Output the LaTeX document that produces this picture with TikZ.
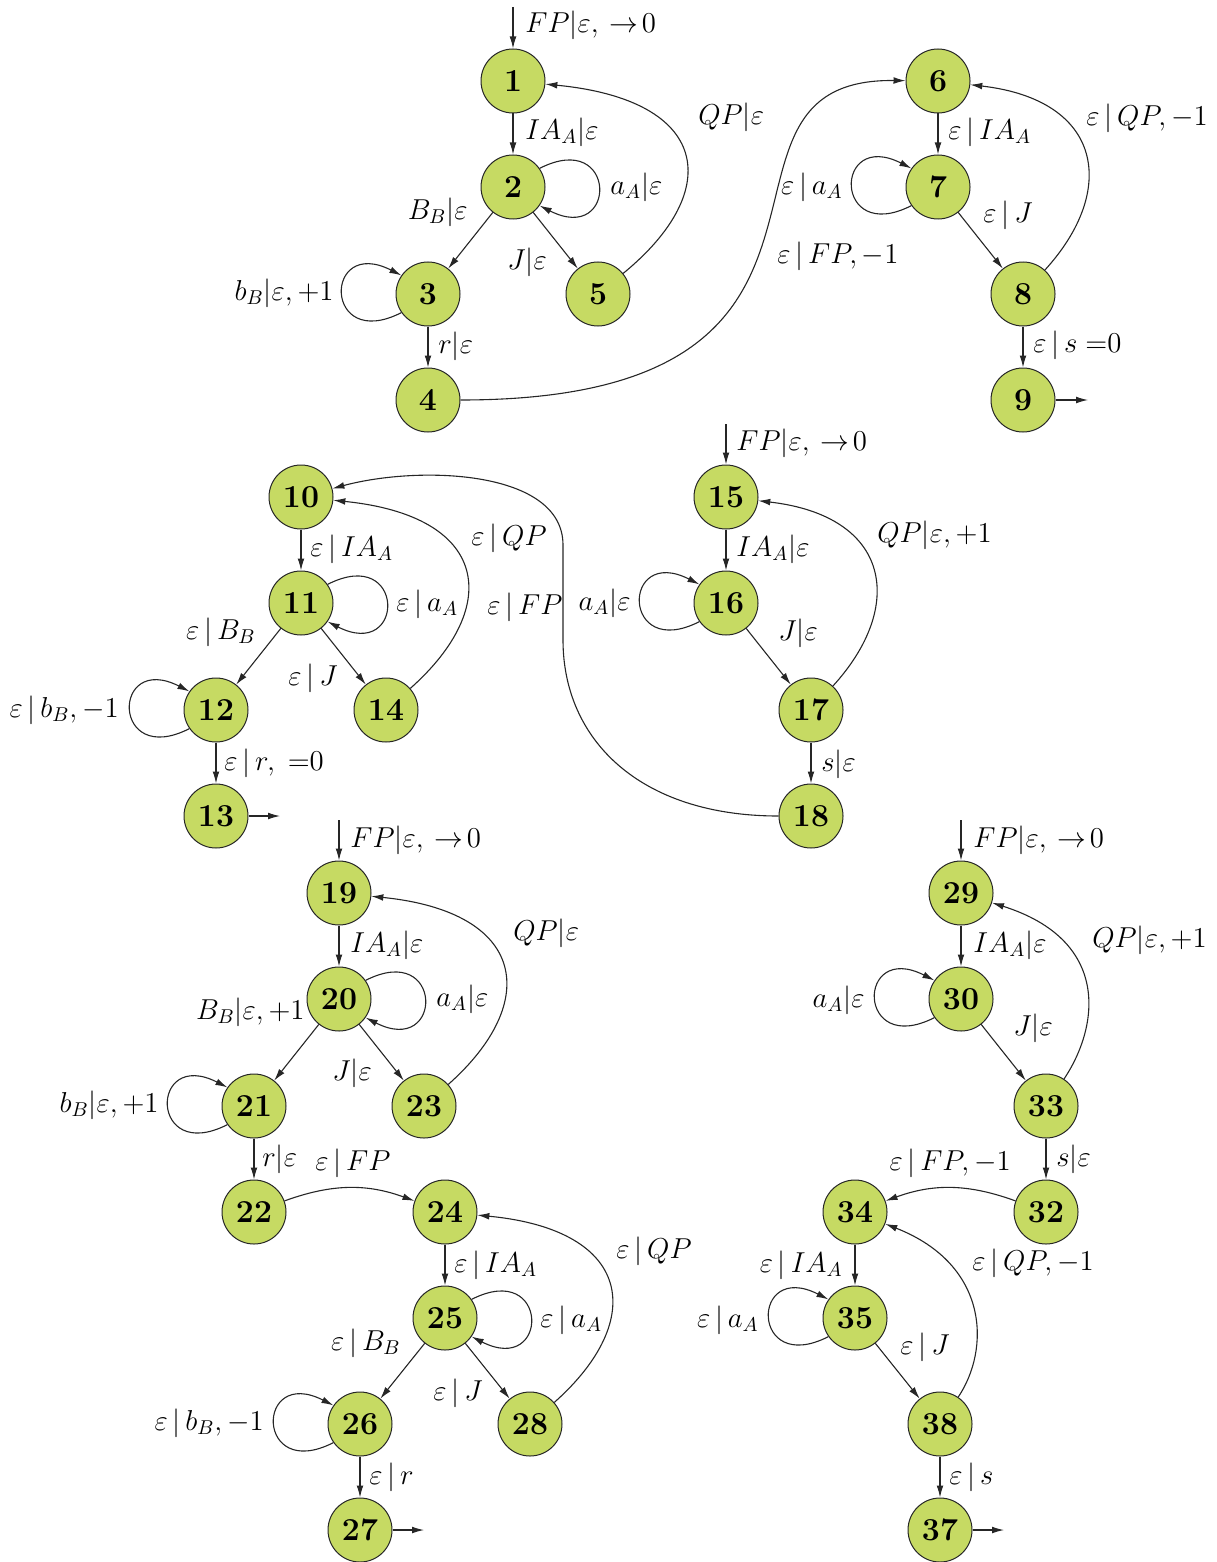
\documentclass[tikz,border=0pt]{standalone}
\usetikzlibrary{arrows.meta}
\definecolor{nodegreen}{RGB}{198,218,99}
\newcommand{\toz}{\:{\rightarrow}\mkern2mu 0}
\begin{document}
\begin{tikzpicture}[x=0.5pt,y=0.5pt,
  st/.style={circle,draw=black!85,fill=nodegreen,minimum size=32pt,inner sep=0pt,line width=0.5pt,font=\fontsize{16}{19}\selectfont\bfseries},
  lab/.style={inner sep=0pt,font=\fontsize{14.7}{17}\selectfont},
  tr/.style={-{Latex[length=6pt,width=3.4pt]},line width=0.55pt,black!85}]
\useasboundingbox (0,0) rectangle (1216,-1562);
% ---------- nodes
\node[st] (n1) at (513,-81) {1};
\node[st] (n2) at (513,-187) {2};
\node[st] (n3) at (428,-294) {3};
\node[st] (n4) at (428,-400) {4};
\node[st] (n5) at (598,-294) {5};
\node[st] (n6) at (938,-81) {6};
\node[st] (n7) at (938,-187) {7};
\node[st] (n8) at (1023,-294) {8};
\node[st] (n9) at (1023,-400) {9};
\node[st] (n10) at (301,-497) {10};
\node[st] (n11) at (301,-603) {11};
\node[st] (n12) at (216,-710) {12};
\node[st] (n13) at (216,-816) {13};
\node[st] (n14) at (386,-710) {14};
\node[st] (n15) at (726,-497) {15};
\node[st] (n16) at (726,-603) {16};
\node[st] (n17) at (811,-710) {17};
\node[st] (n18) at (811,-816) {18};
\node[st] (n19) at (339,-893) {19};
\node[st] (n20) at (339,-999) {20};
\node[st] (n21) at (254,-1106) {21};
\node[st] (n22) at (254,-1212) {22};
\node[st] (n23) at (424,-1106) {23};
\node[st] (n24) at (445,-1212) {24};
\node[st] (n25) at (445,-1318) {25};
\node[st] (n26) at (360,-1424) {26};
\node[st] (n27) at (360,-1530) {27};
\node[st] (n28) at (530,-1424) {28};
\node[st] (n29) at (961,-893) {29};
\node[st] (n30) at (961,-999) {30};
\node[st] (n33) at (1046,-1106) {33};
\node[st] (n32) at (1046,-1212) {32};
\node[st] (n34) at (855,-1212) {34};
\node[st] (n35) at (855,-1318) {35};
\node[st] (n38) at (940,-1424) {38};
\node[st] (n37) at (940,-1530) {37};
% ---------- free ends
\coordinate (s1) at (513,-7);
\coordinate (s15) at (726,-424);
\coordinate (s19) at (339,-820);
\coordinate (s29) at (961,-820);
\coordinate (f9) at (1088,-400);
\coordinate (f13) at (280,-816);
\coordinate (f27) at (424,-1530);
\coordinate (f37) at (1004,-1530);
% ---------- group 1
\draw[tr] (s1) -- (n1);
\draw[tr] (n1) -- (n2);
\draw[tr] (n2.35) .. controls +(27:88) and +(-27:88) .. (n2.-35);
\draw[tr] (n2) -- (n3);
\draw[tr] (n2) -- (n5);
\draw[tr] (n3.-145) .. controls +(-153:88) and +(153:88) .. (n3.145);
\draw[tr] (n3) -- (n4);
\draw[tr] (n5) .. controls (725,-190) and (710,-100) .. (n1);
\draw[tr] (n4) .. controls (910,-400) and (676,-78) .. (n6);
% ---------- group 2
\draw[tr] (n6) -- (n7);
\draw[tr] (n7.-145) .. controls +(-153:88) and +(153:88) .. (n7.145);
\draw[tr] (n7) -- (n8);
\draw[tr] (n8) .. controls (1118,-190) and (1103,-100) .. (n6);
\draw[tr] (n8) -- (n9);
\draw[tr] (n9) -- (f9);
% ---------- group 3
\draw[tr] (n10) -- (n11);
\draw[tr] (n11.35) .. controls +(27:88) and +(-27:88) .. (n11.-35);
\draw[tr] (n11) -- (n12);
\draw[tr] (n11) -- (n14);
\draw[tr] (n12.-145) .. controls +(-153:88) and +(153:88) .. (n12.145);
\draw[tr] (n12) -- (n13);
\draw[tr] (n13) -- (f13);
\draw[tr] (n14) .. controls (503,-606) and (489,-516) .. (n10);
\draw[tr] (n18) .. controls (640,-816) and (563,-740) .. (563,-640) -- (563,-545) .. controls (563,-470) and (420,-465) .. (n10);
% ---------- group 4
\draw[tr] (s15) -- (n15);
\draw[tr] (n15) -- (n16);
\draw[tr] (n16.-145) .. controls +(-153:88) and +(153:88) .. (n16.145);
\draw[tr] (n16) -- (n17);
\draw[tr] (n17) .. controls (906,-606) and (891,-516) .. (n15);
\draw[tr] (n17) -- (n18);
% ---------- group 5
\draw[tr] (s19) -- (n19);
\draw[tr] (n19) -- (n20);
\draw[tr] (n20.35) .. controls +(27:88) and +(-27:88) .. (n20.-35);
\draw[tr] (n20) -- (n21);
\draw[tr] (n20) -- (n23);
\draw[tr] (n21.-145) .. controls +(-153:88) and +(153:88) .. (n21.145);
\draw[tr] (n21) -- (n22);
\draw[tr] (n23) .. controls (541,-1002) and (527,-912) .. (n19);
\draw[tr] (n22) to[bend left=20] (n24);
\draw[tr] (n24) -- (n25);
\draw[tr] (n25.35) .. controls +(27:88) and +(-27:88) .. (n25.-35);
\draw[tr] (n25) -- (n26);
\draw[tr] (n25) -- (n28);
\draw[tr] (n26.-145) .. controls +(-153:88) and +(153:88) .. (n26.145);
\draw[tr] (n26) -- (n27);
\draw[tr] (n27) -- (f27);
\draw[tr] (n28) .. controls (647,-1320) and (633,-1230) .. (n24);
% ---------- group 6
\draw[tr] (s29) -- (n29);
\draw[tr] (n29) -- (n30);
\draw[tr] (n30.-145) .. controls +(-153:88) and +(153:88) .. (n30.145);
\draw[tr] (n30) -- (n33);
\draw[tr] (n33) .. controls (1100,-1025) and (1110,-940) .. (n29);
\draw[tr] (n33) -- (n32);
\draw[tr] (n32) to[bend right=20] (n34);
\draw[tr] (n34) -- (n35);
\draw[tr] (n35.-145) .. controls +(-153:88) and +(153:88) .. (n35.145);
\draw[tr] (n35) -- (n38);
\draw[tr] (n38) .. controls (990,-1350) and (990,-1265) .. (n34);
\draw[tr] (n38) -- (n37);
\draw[tr] (n37) -- (f37);
% ---------- labels
\node[lab,anchor=west] (l1) at (525,-25) {$FP|\varepsilon,\toz$};
\node[lab,anchor=west] (l2) at (525,-132) {$IA_A|\varepsilon$};
\node[lab,anchor=west] (l3) at (610,-187) {$a_A|\varepsilon$};
\node[lab,anchor=east] (l4) at (468,-212) {$B_B|\varepsilon$};
\node[lab] (l5) at (527,-262) {$J|\varepsilon$};
\node[lab,anchor=east] (l6) at (334,-293) {$b_B|\varepsilon,+1$};
\node[lab,anchor=west] (l7) at (438,-346) {$r|\varepsilon$};
\node[lab,anchor=west] (l8) at (698,-117) {$QP|\varepsilon$};
\node[lab,anchor=west] (l9) at (777,-256) {$\varepsilon\,|\,FP,-1$};
\node[lab,anchor=west] (l10) at (948,-132) {$\varepsilon\,|\,IA_A$};
\node[lab,anchor=east] (l11) at (843,-187) {$\varepsilon\,|\,a_A$};
\node[lab] (l12) at (1008,-215) {$\varepsilon\,|\,J$};
\node[lab,anchor=west] (l13) at (1086,-118) {$\varepsilon\,|\,QP,-1$};
\node[lab,anchor=west] (l14) at (1033,-345) {$\varepsilon\,|\,s\;{=}0$};
\node[lab,anchor=west] (l15) at (310,-549) {$\varepsilon\,|\,IA_A$};
\node[lab,anchor=west] (l16) at (396,-604) {$\varepsilon\,|\,a_A$};
\node[lab,anchor=east] (l17) at (256,-632) {$\varepsilon\,|\,B_B$};
\node[lab] (l18) at (313,-678) {$\varepsilon\,|\,J$};
\node[lab,anchor=east] (l19) at (119,-710) {$\varepsilon\,|\,b_B,-1$};
\node[lab,anchor=west] (l20) at (224,-763) {$\varepsilon\,|\,r,\;{=}0$};
\node[lab,anchor=west] (l21) at (471,-538) {$\varepsilon\,|\,QP$};
\node[lab,anchor=west] (l22) at (487,-607) {$\varepsilon\,|\,FP$};
\node[lab,anchor=west] (l23) at (736,-443) {$FP|\varepsilon,\toz$};
\node[lab,anchor=west] (l24) at (736,-549) {$IA_A|\varepsilon$};
\node[lab,anchor=east] (l25) at (631,-603) {$a_A|\varepsilon$};
\node[lab] (l26) at (798,-633) {$J|\varepsilon$};
\node[lab,anchor=west] (l27) at (877,-535) {$QP|\varepsilon,+1$};
\node[lab,anchor=west] (l28) at (821,-764) {$s|\varepsilon$};
\node[lab,anchor=west] (l29) at (350,-840) {$FP|\varepsilon,\toz$};
\node[lab,anchor=west] (l30) at (350,-945) {$IA_A|\varepsilon$};
\node[lab,anchor=west] (l31) at (436,-999) {$a_A|\varepsilon$};
\node[lab,anchor=east] (l32) at (305,-1012) {$B_B|\varepsilon,+1$};
\node[lab] (l33) at (352,-1073) {$J|\varepsilon$};
\node[lab,anchor=east] (l34) at (159,-1105) {$b_B|\varepsilon,+1$};
\node[lab,anchor=west] (l35) at (262,-1159) {$r|\varepsilon$};
\node[lab,anchor=west] (l36) at (513,-933) {$QP|\varepsilon$};
\node[lab,anchor=west] (l37) at (315,-1163) {$\varepsilon\,|\,FP$};
\node[lab,anchor=west] (l38) at (454,-1265) {$\varepsilon\,|\,IA_A$};
\node[lab,anchor=west] (l39) at (540,-1320) {$\varepsilon\,|\,a_A$};
\node[lab,anchor=east] (l40) at (401,-1343) {$\varepsilon\,|\,B_B$};
\node[lab] (l41) at (458,-1393) {$\varepsilon\,|\,J$};
\node[lab,anchor=east] (l42) at (264,-1423) {$\varepsilon\,|\,b_B,-1$};
\node[lab,anchor=west] (l43) at (369,-1477) {$\varepsilon\,|\,r$};
\node[lab,anchor=west] (l44) at (616,-1251) {$\varepsilon\,|\,QP$};
\node[lab,anchor=west] (l45) at (973,-840) {$FP|\varepsilon,\toz$};
\node[lab,anchor=west] (l46) at (973,-945) {$IA_A|\varepsilon$};
\node[lab,anchor=east] (l47) at (865,-1000) {$a_A|\varepsilon$};
\node[lab] (l48) at (1033,-1028) {$J|\varepsilon$};
\node[lab,anchor=west] (l49) at (1092,-940) {$QP|\varepsilon,+1$};
\node[lab,anchor=west] (l50) at (1056,-1159) {$s|\varepsilon$};
\node[lab,anchor=east] (l51) at (1011,-1163) {$\varepsilon\,|\,FP,-1$};
\node[lab,anchor=east] (l52) at (843,-1265) {$\varepsilon\,|\,IA_A$};
\node[lab,anchor=east] (l53) at (759,-1320) {$\varepsilon\,|\,a_A$};
\node[lab] (l54) at (925,-1347) {$\varepsilon\,|\,J$};
\node[lab,anchor=west] (l55) at (972,-1263) {$\varepsilon\,|\,QP,-1$};
\node[lab,anchor=west] (l56) at (949,-1477) {$\varepsilon\,|\,s$};
\end{tikzpicture}
\end{document}
